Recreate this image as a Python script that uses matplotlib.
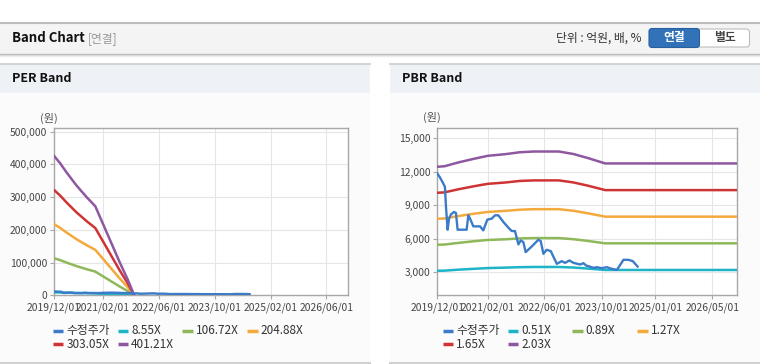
import pandas as pd
import matplotlib.pyplot as plt
from matplotlib.patches import Rectangle, FancyBboxPatch

plt.rcParams['font.family'] = ['Noto Sans CJK KR', 'DejaVu Sans']

# 수정주가 (same series in both charts)
price_dates = ['2019-12-01', '2019-12-24', '2020-01-21', '2020-02-04', '2020-02-13', '2020-02-27',
               '2020-03-10', '2020-03-27', '2020-04-21', '2020-05-08', '2020-05-22', '2020-06-26',
               '2020-08-07', '2020-08-21', '2020-09-05', '2020-10-03', '2020-11-29', '2020-12-27',
               '2021-01-30', '2021-03-08', '2021-04-06', '2021-05-04', '2021-06-16', '2021-07-29',
               '2021-08-26', '2021-09-23', '2021-10-22', '2021-11-11', '2021-12-03', '2021-12-23',
               '2022-02-13', '2022-04-10', '2022-04-30', '2022-05-23', '2022-06-20', '2022-07-25',
               '2022-09-14', '2022-10-26', '2022-11-24', '2022-12-31', '2023-02-03', '2023-04-01',
               '2023-04-29', '2023-05-22', '2023-06-19', '2023-07-24', '2023-08-21', '2023-10-03',
               '2023-11-14', '2023-12-27', '2024-02-08', '2024-03-13', '2024-04-04', '2024-05-17',
               '2024-06-23', '2024-07-13', '2024-08-02']
price_values = [11850, 11490, 10950, 10650, 8850, 6810,
                7800, 8190, 8400, 8310, 6810, 6810,
                6810, 8100, 7800, 7110, 7110, 6750,
                7710, 7800, 8100, 8100, 7500, 6990,
                6690, 6690, 5490, 5850, 5700, 4800,
                5310, 5910, 5790, 4650, 5010, 4890,
                3750, 3990, 3840, 4050, 3840, 3690,
                3810, 3600, 3510, 3390, 3450, 3360,
                3450, 3300, 3210, 3750, 4110, 4110,
                3990, 3750, 3510]

# PER bands
per_dates = ['2019-12-01', '2020-01-22', '2020-03-20', '2020-06-15', '2020-09-10', '2020-11-25',
             '2021-01-04', '2021-04-01', '2021-06-27', '2021-09-08', '2021-10-30']
per_labels = ['8.55X', '106.72X', '204.88X', '303.05X', '401.21X']
per_855 = [9080, 8610, 7990, 7140, 6390, 5800, 5110, 3620, 2130, 960, 0]
per_10672 = [113300, 107500, 99800, 89100, 79800, 72400, 63800, 45200, 26600, 12000, 0]
per_20488 = [217500, 206300, 191500, 171100, 153200, 138900, 122600, 86800, 51100, 23000, 0]
per_30305 = [321800, 305200, 283300, 253000, 226600, 205500, 181300, 128400, 75500, 34000, 0]
per_40121 = [426000, 404000, 375000, 335000, 300000, 272000, 240000, 170000, 100000, 45000, 0]

# PBR bands
pbr_dates = ['2019-12-01', '2020-02-01', '2020-06-01', '2020-10-01', '2021-02-01', '2021-07-01',
             '2021-11-01', '2022-03-01', '2022-10-01', '2023-02-01', '2023-06-01', '2023-11-01',
             '2026-12-01']
pbr_labels = ['0.51X', '0.89X', '1.27X', '1.65X', '2.03X']
pbr_051 = [3130, 3140, 3230, 3300, 3370, 3410, 3450, 3470, 3470, 3420, 3330, 3200, 3200]
pbr_089 = [5460, 5480, 5630, 5770, 5890, 5950, 6030, 6060, 6060, 5960, 5810, 5590, 5590]
pbr_127 = [7790, 7820, 8040, 8230, 8400, 8500, 8600, 8650, 8650, 8510, 8290, 7980, 7980]
pbr_165 = [10120, 10160, 10440, 10690, 10920, 11040, 11180, 11230, 11230, 11050, 10770, 10360, 10360]
pbr_203 = [12450, 12500, 12850, 13150, 13430, 13580, 13750, 13820, 13820, 13600, 13250, 12750, 12750]

per_xticks = ['2019/12/01', '2021/02/01', '2022/06/01', '2023/10/01', '2025/02/01', '2026/06/01']
pbr_xticks = ['2019/12/01', '2021/02/01', '2022/06/01', '2023/10/01', '2025/01/01', '2026/05/01']
per_yticks = [0, 100000, 200000, 300000, 400000, 500000]
pbr_yticks = [3000, 6000, 9000, 12000, 15000]

price_label = '수정주가'
colors = ['#3b7bc8', '#1db4c8', '#8fb85a', '#f3a93c', '#cf3434', '#8e58a0']

W, H = 760, 364
fig = plt.figure(figsize=(W / 100, H / 100), dpi=100)
fig.patch.set_facecolor('white')

# background layer in pixel coordinates
bg = fig.add_axes([0, 0, 1, 1], zorder=-1)
bg.set_xlim(0, W)
bg.set_ylim(H, 0)
bg.axis('off')

# top header bar
bg.add_patch(Rectangle((0, 22.5), W, 31, facecolor='#f4f4f4', edgecolor='none'))
bg.plot([0, W], [22.5, 22.5], color='#bdbdbd', lw=1.5)
bg.plot([0, W], [53.5, 53.5], color='#b8b8b8', lw=1)
bg.plot([0, W], [54.5, 54.5], color='#d6d6d6', lw=1)
bg.plot([0, W], [55.5, 55.5], color='#ededed', lw=1)
bg.text(12, 38.5, 'Band Chart', fontsize=9.5, fontweight='bold', color='#111', va='center')
bg.text(88, 38.5, '[연결]', fontsize=8.5, color='#999', va='center')
bg.text(641, 38.5, '단위 : 억원, 배, %', fontsize=8.5, color='#333', va='center', ha='right')
# toggle buttons
bg.add_patch(FancyBboxPatch((650, 29), 99.5, 18, boxstyle='round,pad=0,rounding_size=3',
                            facecolor='white', edgecolor='#bdbdbd', lw=0.8))
bg.add_patch(FancyBboxPatch((649, 28.5), 50.5, 19, boxstyle='round,pad=0,rounding_size=3',
                            facecolor='#3172b8', edgecolor='#2a609f', lw=0.8))
bg.text(674, 38, '연결', fontsize=8.5, fontweight='bold', color='white', ha='center', va='center')
bg.text(725, 38, '별도', fontsize=8.5, fontweight='bold', color='#444', ha='center', va='center')

# panel boxes
for x0, title in [(0, 'PER Band'), (390, 'PBR Band')]:
    bg.add_patch(Rectangle((x0, 64), 370, 298, facecolor='#fbfbfb', edgecolor='none'))
    bg.add_patch(Rectangle((x0, 64), 370, 29, facecolor='#eef2f7', edgecolor='none'))
    bg.plot([x0, x0 + 370], [64, 64], color='#d4d4d4', lw=1.5)
    bg.plot([x0, x0 + 370], [362.5, 362.5], color='#d0d0d0', lw=1.5)
    bg.text(x0 + 12, 79, title, fontsize=9, fontweight='bold', color='#111', va='center')

bg.text(49, 118, '(원)', fontsize=8, color='#555', ha='center', va='center')
bg.text(432, 117, '(원)', fontsize=8, color='#555', ha='center', va='center')


def draw_band(rect, band_dates, bands, xticks, yticks, ylim, xlim):
    ax = fig.add_axes(rect)
    ax.set_facecolor('white')
    ax.plot(pd.to_datetime(price_dates), price_values, color=colors[0], lw=1.7, zorder=4)
    bd = pd.to_datetime(band_dates)
    for vals, c in zip(bands, colors[1:]):
        ax.plot(bd, vals, color=c, lw=1.8, zorder=3)
    ax.set_xlim(pd.Timestamp(xlim[0]), pd.Timestamp(xlim[1]))
    ax.set_ylim(*ylim)
    ax.set_xticks(pd.to_datetime(xticks, format='%Y/%m/%d'))
    ax.set_xticklabels(xticks)
    ax.set_yticks(yticks)
    ax.set_yticklabels([f'{v:,}' for v in yticks])
    ax.grid(True, color='#e6e6e6', lw=0.8, zorder=0)
    ax.set_axisbelow(True)
    for s in ax.spines.values():
        s.set_color('#a8a8a8')
        s.set_linewidth(1)
    ax.tick_params(labelsize=7.4, labelcolor='#444', length=3, color='#a8a8a8', pad=2)
    return ax


draw_band([54 / W, 1 - 295.3 / H, 294 / W, 167 / H], per_dates,
          [per_855, per_10672, per_20488, per_30305, per_40121],
          per_xticks, per_yticks, (0, 510000), ('2019-12-01', '2026-12-08'))
draw_band([437.3 / W, 1 - 295.3 / H, 300 / W, 167 / H], pbr_dates,
          [pbr_051, pbr_089, pbr_127, pbr_165, pbr_203],
          pbr_xticks, pbr_yticks, (930, 15900), ('2019-12-01', '2026-11-30'))


# legends, drawn by hand to match the grid layout
def draw_legend(x0, labels):
    names = [price_label] + labels
    for i, (name, c) in enumerate(zip(names, colors)):
        col, row = i % 4, i // 4
        x = x0 + col * 64.8
        y = 330.7 + row * 13.5
        bg.plot([x, x + 10.5], [y, y], color=c, lw=2.5, solid_capstyle='butt')
        bg.text(x + 13.5, y, name, fontsize=8.5, color='#333', va='center')


draw_legend(52.7, per_labels)
draw_legend(442.7, pbr_labels)

fig.savefig('out.png', dpi=100)
